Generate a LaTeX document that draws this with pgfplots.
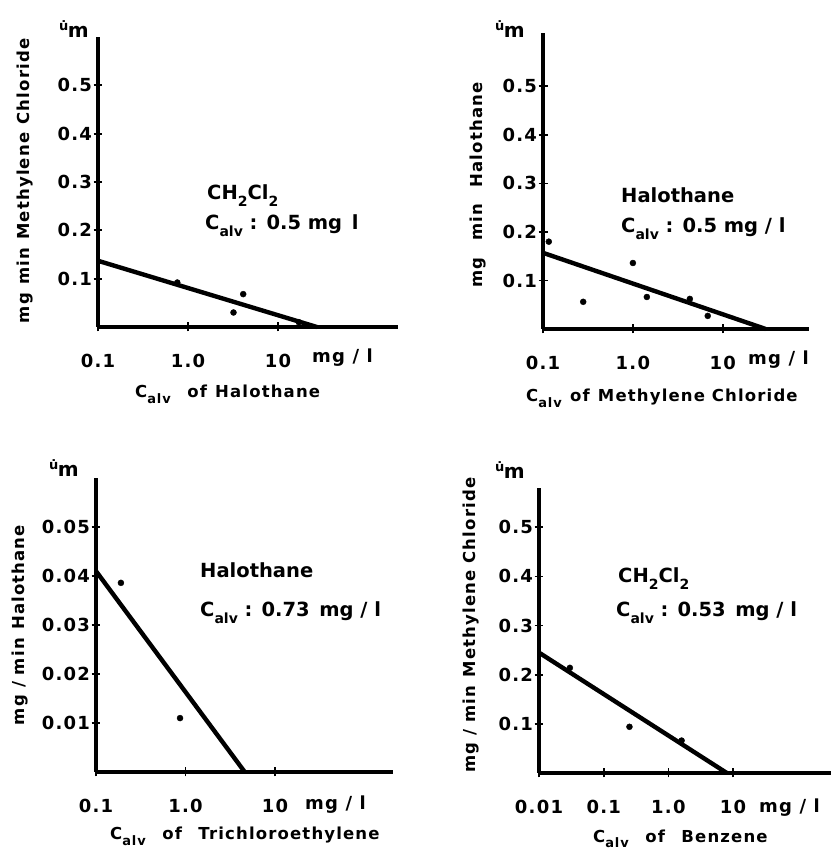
\documentclass[border=0pt]{standalone}
\usepackage{fontspec}
\setmainfont{DejaVu Sans}
\newfontfamily\lsf[LetterSpace=7]{DejaVu Sans}
\usepackage{pgfplots}
\pgfplotsset{compat=1.18}
\newcommand\tf{\lsf\fontsize{18}{20}\selectfont\bfseries}
\newcommand\lf{\lsf\fontsize{16.5}{18}\selectfont\bfseries}
\newcommand\af{\fontsize{19.5}{21}\selectfont\bfseries}
\newcommand\calv[1]{C\raisebox{-0.6ex}{\fontsize{#1}{#1}\selectfont alv}}
\newcommand\sub[2]{\raisebox{-0.6ex}{\fontsize{#1}{#1}\selectfont #2}}
\newcommand\um{{\fontsize{13}{13}\selectfont\bfseries\raisebox{7pt}{\.u}}\kern-0.5pt{\fontsize{20}{20}\selectfont\bfseries m}}
\pgfplotsset{every axis/.append style={
  scale only axis, axis lines=left,
  axis line style={-, line width=3.2pt},
  tick style={black, line width=1.8pt},
  major tick length=9pt, tick align=center,
  ymin=0, clip=false, scaled y ticks=false,
  ticklabel style={font=\tf},
  xticklabel style={anchor=base, yshift=-36pt},
  yticklabel style={anchor=east, xshift=2pt},
 }}
\begin{document}
\begin{tikzpicture}
\path[use as bounding box] (0,0) rectangle (832pt,851pt);
% Panel 1
\begin{axis}[xmode=log, at={(98pt,524pt)}, anchor=south west, width=300pt, height=290pt,
  xmin=0.1, xmax=215, ymax=0.6,
  xtick={0.1,1,10}, xticklabels={0.1,1.0,10},
  ytick={0.1,0.2,0.3,0.4,0.5}, yticklabels={0.1,0.2,0.3,0.4,0.5}]
\addplot[black, line width=4.4pt, no markers] coordinates {(0.1,0.137) (27,0)};
\addplot[only marks, mark=*, mark size=3pt, black] coordinates {(0.76,0.092) (3.2,0.030) (4.1,0.068) (17,0.010)};
\end{axis}
% Panel 2
\begin{axis}[xmode=log, at={(543pt,522pt)}, anchor=south west, width=266pt, height=296pt,
  xmin=0.1, xmax=91, ymax=0.61,
  xtick={0.1,1,10}, xticklabels={0.1,1.0,10},
  ytick={0.1,0.2,0.3,0.4,0.5}, yticklabels={0.1,0.2,0.3,0.4,0.5}]
\addplot[black, line width=4.4pt, no markers] coordinates {(0.1,0.157) (30,0)};
\addplot[only marks, mark=*, mark size=3pt, black] coordinates {(0.116,0.18) (0.28,0.056) (1.0,0.136) (1.43,0.066) (4.3,0.062) (6.8,0.027)};
\end{axis}
% Panel 3
\begin{axis}[xmode=log, at={(96pt,79pt)}, anchor=south west, width=297pt, height=294pt,
  xmin=0.1, xmax=209, ymax=0.06,
  xtick={0.1,1,10}, xticklabels={0.1,1.0,10},
  ytick={0.01,0.02,0.03,0.04,0.05}, yticklabels={0.01,0.02,0.03,0.04,0.05}]
\addplot[black, line width=4.4pt, no markers] coordinates {(0.1,0.041) (4.6,0)};
\addplot[only marks, mark=*, mark size=3pt, black] coordinates {(0.19,0.0386) (0.87,0.011)};
\end{axis}
% Panel 4
\begin{axis}[xmode=log, at={(539pt,78pt)}, anchor=south west, width=292pt, height=285pt,
  xmin=0.01, xmax=326, ymax=0.58,
  xtick={0.01,0.1,1,10}, xticklabels={0.01,0.1,1.0,10},
  ytick={0.1,0.2,0.3,0.4,0.5}, yticklabels={0.1,0.2,0.3,0.4,0.5}]
\addplot[black, line width=4.4pt, no markers] coordinates {(0.01,0.245) (8,0)};
\addplot[only marks, mark=*, mark size=3pt, black] coordinates {(0.03,0.214) (0.25,0.094) (1.6,0.066)};
\end{axis}
% --- texts panel 1
\node[anchor=base west, font=\af, inner sep=0] at (207pt,651pt) {CH\sub{14}{2}Cl\sub{14}{2}};
\node[anchor=base west, font=\af, inner sep=0] at (205pt,621pt) {\calv{14} : 0.5 mg\enspace l};
\node[rotate=90, font=\lf] at (25pt,670pt) {mg\enspace min\enspace Methylene\enspace Chloride};
\node[anchor=base west, font=\lf, inner sep=0] at (135pt,453pt) {\calv{13}\quad of\enspace Halothane};
\node[anchor=base west, font=\tf, inner sep=0] at (312pt,488pt) {mg / l};
\node[inner sep=0] at (74pt,822pt) {\um};
% --- texts panel 2
\node[anchor=base west, font=\af, inner sep=0] at (621pt,648pt) {Halothane};
\node[anchor=base west, font=\af, inner sep=0] at (621pt,618pt) {\calv{14} : 0.5 mg / l};
\node[rotate=90, font=\lf] at (478pt,666pt) {mg\quad min\quad Halothane};
\node[anchor=base west, font=\lf, inner sep=0] at (526pt,449pt) {\calv{13}\enspace of\enspace Methylene Chloride};
\node[anchor=base west, font=\tf, inner sep=0] at (748pt,486pt) {mg / l};
\node[inner sep=0] at (510pt,822pt) {\um};
% --- texts panel 3
\node[anchor=base west, font=\af, inner sep=0] at (200pt,273pt) {Halothane};
\node[anchor=base west, font=\af, inner sep=0] at (200pt,234pt) {\calv{14} : 0.73\enspace mg / l};
\node[rotate=90, font=\lf] at (20pt,226pt) {mg / min\enspace Halothane};
\node[anchor=base west, font=\lf, inner sep=0] at (110pt,11pt) {\calv{13}\quad of\quad Trichloroethylene};
\node[anchor=base west, font=\tf, inner sep=0] at (305pt,41pt) {mg / l};
\node[inner sep=0] at (64pt,383pt) {\um};
% --- texts panel 4
\node[anchor=base west, font=\af, inner sep=0] at (618pt,268pt) {CH\sub{14}{2}Cl\sub{14}{2}};
\node[anchor=base west, font=\af, inner sep=0] at (616pt,234pt) {\calv{14} : 0.53\enspace mg / l};
\node[rotate=90, font=\lf] at (471pt,226pt) {mg / min\enspace Methylene Chloride};
\node[anchor=base west, font=\lf, inner sep=0] at (593pt,9pt) {\calv{13}\quad of\quad Benzene};
\node[anchor=base west, font=\tf, inner sep=0] at (759pt,38pt) {mg / l};
\node[inner sep=0] at (510pt,381pt) {\um};
\end{tikzpicture}
\end{document}
